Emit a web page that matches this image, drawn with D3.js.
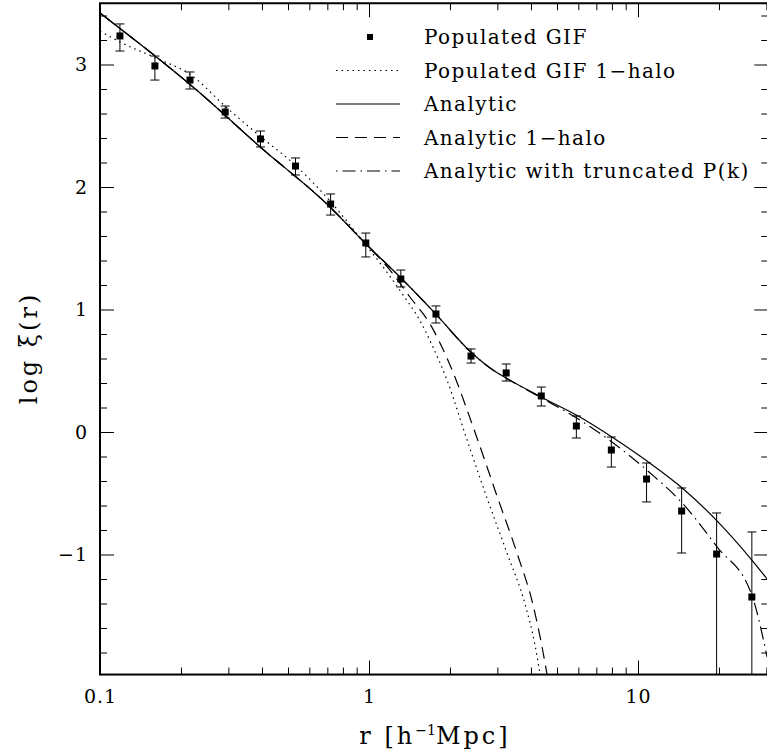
<!DOCTYPE html>
<meta charset="utf-8">
<style>
 body { margin: 0; background: #fff; }
 svg { display: block; font-family: "DejaVu Serif", serif; }
 .curve { fill: none; stroke: #000; stroke-width: 1.2px; }
 .frame { fill: none; stroke: #000; stroke-width: 2px; }
 .axis line { stroke: #000; stroke-width: 1px; }
 .axis text { font-family: "DejaVu Serif", serif; font-size: 19px; letter-spacing: 1px; }
 .err { stroke: #000; stroke-width: 1px; }
</style>
<body>
<script src="https://d3js.org/d3.v7.min.js"></script>
<script>
 // Populated GIF points: r, log xi and error bar ends (null = runs off the bottom)
 var gifR = [0.1186, 0.160, 0.216, 0.292, 0.395, 0.533, 0.720, 0.973, 1.313, 1.774,
             2.395, 3.236, 4.37, 5.90, 7.96, 10.76, 14.53, 19.6, 26.5];
 var gifLogXi = [3.233, 2.988, 2.873, 2.612, 2.392, 2.171, 1.861, 1.543, 1.249, 0.963,
                 0.620, 0.482, 0.294, 0.049, -0.147, -0.384, -0.645, -0.996, -1.347];
 var gifHi = [3.331, 3.069, 2.939, 2.661, 2.457, 2.237, 1.943, 1.624, 1.322, 1.029,
              0.678, 0.555, 0.367, 0.131, -0.041, -0.253, -0.457, -0.661, -0.816];
 var gifLo = [3.110, 2.873, 2.800, 2.563, 2.327, 2.098, 1.771, 1.429, 1.184, 0.890,
              0.563, 0.416, 0.212, -0.049, -0.286, -0.571, -0.988, null, null];

 // Populated GIF 1-halo (dotted)
 var gif1hR = [0.1, 0.1186, 0.1614, 0.218, 0.294, 0.397, 0.531, 0.716, 0.966, 1.099,
               1.315, 1.549, 1.715, 1.950, 2.314, 2.746, 3.258, 3.801, 4.141, 4.360];
 var gif1hLogXi = [3.273, 3.184, 3.053, 2.914, 2.653, 2.408, 2.180, 1.886, 1.535, 1.380,
                   1.143, 0.906, 0.710, 0.424, -0.065, -0.539, -0.988, -1.404, -1.739, -2.024];

 // Analytic (solid)
 var anaR = [0.1, 0.2355, 0.394, 0.716, 0.966, 1.315, 1.758, 2.39, 2.89, 3.23,
             4.36, 6.08, 8.0, 10.8, 14.6, 19.7, 26.5, 30.4];
 var anaLogXi = [3.42, 2.767, 2.327, 1.837, 1.543, 1.257, 0.971, 0.653, 0.506, 0.441,
                 0.286, 0.122, -0.041, -0.237, -0.457, -0.727, -1.045, -1.208];

 // Analytic 1-halo (dashed)
 var ana1hR = [0.1, 0.2355, 0.394, 0.716, 0.966, 1.197, 1.419, 1.686, 2.0, 2.521,
               2.991, 3.549, 4.072, 4.435, 4.628];
 var ana1hLogXi = [3.42, 2.767, 2.327, 1.837, 1.543, 1.322, 1.102, 0.882, 0.547, -0.049,
                   -0.522, -0.988, -1.412, -1.796, -2.024];

 // Analytic with truncated P(k) (dash-dot)
 var truncR = [0.1, 0.2355, 0.394, 0.716, 0.966, 1.315, 1.758, 2.39, 2.89, 3.23,
               4.36, 6.08, 8.0, 11.1, 14.6, 19.7, 26.5, 30.2];
 var truncLogXi = [3.42, 2.767, 2.327, 1.837, 1.543, 1.257, 0.971, 0.653, 0.506, 0.441,
                   0.280, 0.098, -0.082, -0.335, -0.580, -0.939, -1.331, -1.837];

 var xMajor = [0.1, 1, 10];
 var xMajorLabels = ["0.1", "1", "10"];
 var yMajor = [-1, 0, 1, 2, 3];
 var yMajorLabels = ["\u22121", "0", "1", "2", "3"];
 var legendLabels = ["Populated GIF", "Populated GIF 1\u2212halo", "Analytic",
                     "Analytic 1\u2212halo", "Analytic with truncated P(k)"];

 var W = 767, H = 755;
 var pLeft = 100, pTop = 3.25, pBottom = 674.55;
 var pRight = pLeft + 269 * Math.log10(30.5 / 0.1);

 var svg = d3.select("body").append("svg")
             .attr("width", W)
             .attr("height", H);

 var x = d3.scaleLog().domain([0.1, 30.5]).range([pLeft, pRight]),
     y = d3.scaleLinear().domain([-1.98, 3.5]).range([pBottom, pTop]);

 // minor ticks
 var xMinor = [];
 [0.1, 1, 10].forEach(function (d) {
   for (var k = 2; k <= 9; k++) { if (d * k <= 30.5) xMinor.push(d * k); }
 });
 var yMinor = d3.range(-9, 18).map(function (i) { return i * 0.2; })
               .filter(function (v) { return Math.abs(v - Math.round(v)) > 0.01; });

 svg.append("clipPath").attr("id", "plot")
    .append("rect")
    .attr("x", pLeft).attr("y", pTop)
    .attr("width", pRight - pLeft).attr("height", pBottom - pTop);

 function addAxis(gen, tr, vals, size, labels, pad) {
   var a = gen.tickValues(vals).tickSize(-size).tickSizeOuter(0).tickPadding(pad || 3)
              .tickFormat(labels ? function (d, i) { return labels[i]; } : "");
   var g = svg.append("g").attr("class", "axis").attr("transform", tr).call(a);
   g.select(".domain").remove();
   g.attr("font-family", null).attr("font-size", null);
   return g;
 }

 addAxis(d3.axisBottom(x), "translate(0," + pBottom + ")", xMajor, 14, xMajorLabels, 15);
 addAxis(d3.axisBottom(x), "translate(0," + pBottom + ")", xMinor, 7);
 addAxis(d3.axisTop(x), "translate(0," + pTop + ")", xMajor, 14);
 addAxis(d3.axisTop(x), "translate(0," + pTop + ")", xMinor, 7);
 addAxis(d3.axisLeft(y), "translate(" + pLeft + ",0)", yMajor, 14, yMajorLabels, 12);
 addAxis(d3.axisLeft(y), "translate(" + pLeft + ",0)", yMinor, 7);
 addAxis(d3.axisRight(y), "translate(" + pRight + ",0)", yMajor, 14);
 addAxis(d3.axisRight(y), "translate(" + pRight + ",0)", yMinor, 7);

 svg.append("rect").attr("class", "frame")
    .attr("x", pLeft).attr("y", pTop)
    .attr("width", pRight - pLeft).attr("height", pBottom - pTop);

 var plot = svg.append("g").attr("clip-path", "url(#plot)");

 var line = d3.line()
              .x(function (d) { return x(d[0]); })
              .y(function (d) { return y(d[1]); })
              .curve(d3.curveMonotoneX);

 var series = [
   { r: gif1hR, v: gif1hLogXi, dash: "1.5,4" },
   { r: anaR, v: anaLogXi, dash: null },
   { r: ana1hR, v: ana1hLogXi, dash: "12,7" },
   { r: truncR, v: truncLogXi, dash: "1.5,5,13,5" }
 ];

 series.forEach(function (s) {
   plot.append("path")
       .attr("class", "curve")
       .attr("d", line(d3.zip(s.r, s.v)))
       .attr("stroke-dasharray", s.dash);
 });

 // error bars
 var cap = 4.5;
 gifR.forEach(function (r, i) {
   var cx = x(r);
   var yHi = y(gifHi[i]);
   var yLo = gifLo[i] === null ? pBottom : y(gifLo[i]);
   plot.append("line").attr("class", "err")
       .attr("x1", cx).attr("x2", cx).attr("y1", yHi).attr("y2", yLo);
   plot.append("line").attr("class", "err")
       .attr("x1", cx - cap).attr("x2", cx + cap).attr("y1", yHi).attr("y2", yHi);
   if (gifLo[i] !== null) {
     plot.append("line").attr("class", "err")
         .attr("x1", cx - cap).attr("x2", cx + cap).attr("y1", yLo).attr("y2", yLo);
   }
 });

 plot.selectAll("rect.pt")
     .data(d3.zip(gifR, gifLogXi))
     .enter().append("rect")
     .attr("class", "pt")
     .attr("x", function (d) { return x(d[0]) - 3.5; })
     .attr("y", function (d) { return y(d[1]) - 3.5; })
     .attr("width", 7).attr("height", 7)
     .attr("fill", "#000");

 // legend
 var legY = [37, 70.5, 104, 137.5, 171];
 var legDash = [null, "1.5,4", null, "12,7", "1.5,5,13,5"];
 legendLabels.forEach(function (t, i) {
   if (i === 0) {
     svg.append("rect").attr("x", 367).attr("y", legY[i] - 3)
        .attr("width", 6).attr("height", 6).attr("fill", "#000");
   } else {
     svg.append("line").attr("class", "curve")
        .attr("x1", 336).attr("x2", 400)
        .attr("y1", legY[i]).attr("y2", legY[i])
        .attr("stroke-dasharray", legDash[i]);
   }
   svg.append("text")
      .attr("x", 424).attr("y", legY[i]).attr("dy", "0.36em")
      .style("font-size", "20px").style("letter-spacing", "1.4px")
      .text(t);
 });

 // axis titles
 var xt = svg.append("text")
             .attr("x", 435).attr("y", 744)
             .attr("text-anchor", "middle")
             .style("font-size", "24px").style("letter-spacing", "3px");
 xt.append("tspan").text("r [h");
 xt.append("tspan").attr("dy", -9).style("font-size", "14px").style("letter-spacing", "0px").text("\u22121");
 xt.append("tspan").attr("dy", 9).text("Mpc]");

 svg.append("text")
    .attr("transform", "translate(37,348) rotate(-90)")
    .attr("text-anchor", "middle")
    .style("font-size", "24px").style("letter-spacing", "3px")
    .text("log \u03be(r)");
</script>
</body>
